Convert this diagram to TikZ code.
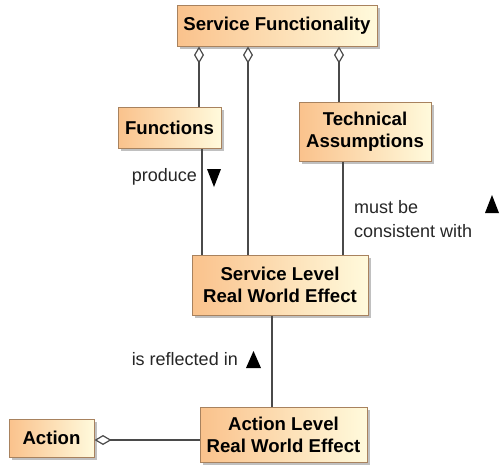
\documentclass[tikz,border=0pt]{standalone}
\usepackage{fontspec}
\setmainfont{Liberation Sans}
\usetikzlibrary{arrows.meta,shadows}

\definecolor{boxleft}{HTML}{FAC28C}
\definecolor{boxright}{HTML}{FFFADC}
\definecolor{boxedge}{HTML}{A8825E}
\definecolor{wire}{HTML}{4A4A4A}

\tikzset{
  classbox/.style={draw=boxedge, line width=1pt, left color=boxleft, right color=boxright,
    shading angle=90, align=center, inner sep=0pt, anchor=center,
    font=\fontsize{18.6}{22}\selectfont\bfseries,
    drop shadow={shadow xshift=3pt, shadow yshift=-3pt, fill=black!45, opacity=0.55}},
  wireline/.style={draw=wire, line width=1.2pt},
  agg/.style={wireline, {Diamond[open, length=17pt, width=10pt, line width=1.2pt]}-},
  lbl/.style={font=\fontsize{18}{24}\selectfont, inner sep=0pt, text=black!85},
  marker/.style={fill=black}
}

\begin{document}
\begin{tikzpicture}[x=1pt, y=-1pt]
  \useasboundingbox (0,0) rectangle (501,467);

  % classes
  \node[classbox, minimum width=200pt, minimum height=41pt] (SF) at (277,25.5) {Service Functionality};
  \node[classbox, minimum width=103pt, minimum height=41pt] (F) at (169.5,127.5) {Functions};
  \node[classbox, minimum width=132pt, minimum height=59pt] (TA) at (365,131.5) {Technical\\Assumptions};
  \node[classbox, minimum width=176pt, minimum height=60pt] (SL) at (280,285) {Service Level\\Real World Effect};
  \node[classbox, minimum width=167pt, minimum height=55pt] (AL) at (283.5,434.5) {Action Level\\Real World Effect};
  \node[classbox, minimum width=85pt, minimum height=38pt] (A) at (51.5,438) {Action};

  % aggregations from Service Functionality
  \draw[agg] ([xshift=-78pt]SF.south) -- ([xshift=-78pt]SF.south |- F.north);
  \draw[agg] ([xshift=-29pt]SF.south) -- ([xshift=-29pt]SF.south |- SL.north);
  \draw[agg] ([xshift=62pt]SF.south) -- ([xshift=62pt]SF.south |- TA.north);

  % associations
  \draw[wireline] ([xshift=32.5pt]F.south) -- ([xshift=32.5pt]F.south |- SL.north);
  \draw[wireline] ([xshift=-22pt]TA.south) -- ([xshift=-22pt]TA.south |- SL.north);
  \draw[wireline] ([xshift=-8pt]SL.south) -- ([xshift=-8pt]SL.south |- AL.north);
  \draw[agg] ([yshift=-2pt]A.east) -- ([yshift=-2pt]A.east -| AL.west);

  % association names with direction markers
  \node[lbl, anchor=east] (produce) at (197,177) {produce};
  \fill[marker] (207,169) -- (221,169) -- (214,187) -- cycle;

  \node[lbl, anchor=west, align=left] (consistent) at (354,219) {must be\\consistent with};
  \fill[marker] (485,213) -- (499,213) -- (492,195) -- cycle;

  \node[lbl, anchor=east] (reflected) at (238,359) {is reflected in};
  \fill[marker] (246,368) -- (261,368) -- (253.5,351) -- cycle;
\end{tikzpicture}
\end{document}
